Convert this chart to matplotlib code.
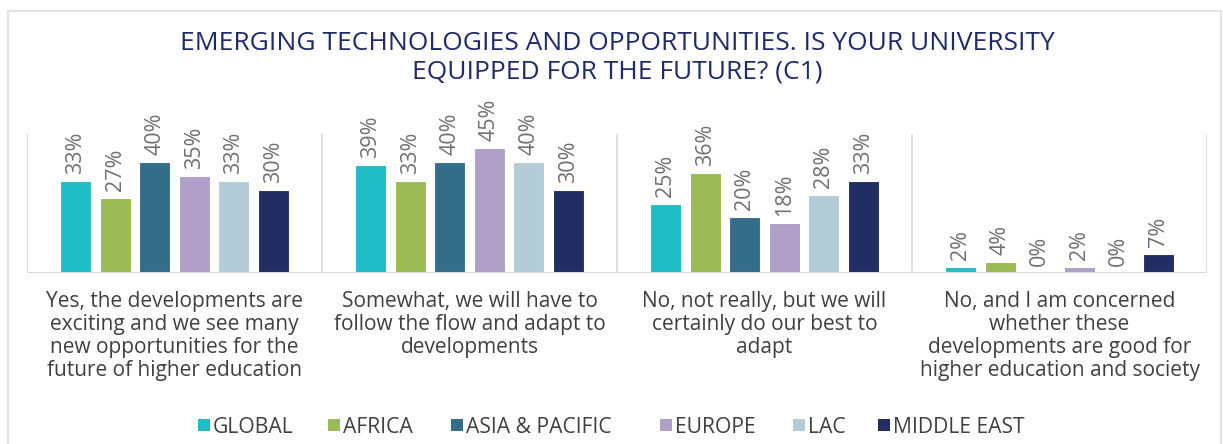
import matplotlib
matplotlib.use("Agg")
import matplotlib.pyplot as plt
from matplotlib.patches import Rectangle
import numpy as np

categories = [
    "Yes, the developments are\nexciting and we see many\nnew opportunities for the\nfuture of higher education",
    "Somewhat, we will have to\nfollow the flow and adapt to\ndevelopments",
    "No, not really, but we will\ncertainly do our best to\nadapt",
    "No, and I am concerned\nwhether these\ndevelopments are good for\nhigher education and society",
]
regions = ["GLOBAL", "AFRICA", "ASIA & PACIFIC", "EUROPE", "LAC", "MIDDLE EAST"]
global_vals = [33, 39, 25, 2]
africa_vals = [27, 33, 36, 4]
asia_pacific_vals = [40, 40, 20, 0]
europe_vals = [35, 45, 18, 2]
lac_vals = [33, 40, 28, 0]
middle_east_vals = [30, 30, 33, 7]
series = [global_vals, africa_vals, asia_pacific_vals, europe_vals, lac_vals, middle_east_vals]
colors = ["#1FBDC6", "#9BBB55", "#346D8A", "#B09FC8", "#B3CCD8", "#212D63"]
title = "EMERGING TECHNOLOGIES AND OPPORTUNITIES. IS YOUR UNIVERSITY\nEQUIPPED FOR THE FUTURE? (C1)"

W, H = 1223, 444
fig = plt.figure(figsize=(W / 100, H / 100), dpi=100)
fig.patch.set_facecolor("white")

# outer frame
fig.add_artist(Rectangle((8 / W, -0.05), (1221 - 8) / W, 1.05 - 11 / H,
                         transform=fig.transFigure, fill=False,
                         edgecolor="#E3E3E3", linewidth=1.5))

ax = fig.add_axes([27 / W, (H - 273) / H, (1207 - 27) / W, (273 - 134) / H])
ax.set_xlim(-0.5, 3.5)
ax.set_ylim(0, 50)

x = np.arange(len(categories))
slot = 0.134
bar_w = 0.105
grid_c = "#D9D9D9"
label_c = "#707070"
text_c = "#404040"

for i, (vals, col) in enumerate(zip(series, colors)):
    xpos = x + (i - 2.5) * slot
    bars = ax.bar(xpos, vals, width=bar_w, color=col, edgecolor="white",
                  linewidth=0.8, zorder=3)
    for b, v in zip(bars, vals):
        ax.annotate(f"{v}%", (b.get_x() + b.get_width() / 2, v),
                    xytext=(0, 5), textcoords="offset points",
                    rotation=90, ha="center", va="bottom",
                    fontsize=15.5, color=label_c, family="Open Sans")

for xv in [-0.5, 0.5, 1.5, 2.5, 3.5]:
    ax.axvline(xv, color=grid_c, linewidth=1.2, zorder=1)
ax.axhline(0, color=grid_c, linewidth=1.5, zorder=4)

for s in ax.spines.values():
    s.set_visible(False)
ax.set_xticks([])
ax.set_yticks([])

for xi, cat in zip(x, categories):
    ax.annotate(cat, (xi, 0), xytext=(0, -13), textcoords="offset points",
                ha="center", va="top", fontsize=15, color=text_c,
                family="Open Sans", linespacing=1.13, annotation_clip=False)

fig.text(617 / W, 1 - 58 / H, title, ha="center", va="center",
         fontsize=19, color="#1F2A6B", family="Open Sans", linespacing=1.17)

# legend entries: colour square followed by region name
legend_x = [198, 328, 451, 660, 793, 878]
legend_y = 1 - 425 / H
sq = 12
for lx, name, col in zip(legend_x, regions, colors):
    fig.add_artist(Rectangle((lx / W, legend_y - sq / 2 / H), sq / W, sq / H,
                             transform=fig.transFigure, facecolor=col,
                             edgecolor="none"))
    fig.text((lx + sq + 3) / W, legend_y, name, ha="left", va="center_baseline",
             fontsize=15.2, color=text_c, family="Open Sans")

fig.savefig("out.png", dpi=100)
